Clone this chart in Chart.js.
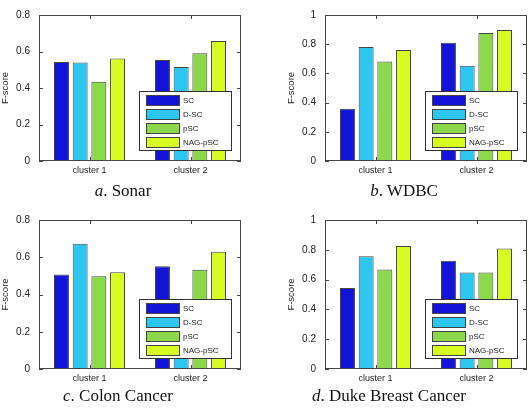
<!DOCTYPE html>
<html>
<head>
<meta charset="utf-8">
<script src="https://cdn.jsdelivr.net/npm/chart.js@4/dist/chart.umd.min.js"></script>
<style>
    html, body { margin: 0; padding: 0; background: #fff; }
    #wrap { position: relative; width: 529px; height: 410px; overflow: hidden; }
    .panel { position: absolute; width: 265px; height: 205px; }
    .caption {
        position: absolute; width: 240px; text-align: center; white-space: nowrap;
        font-family: 'Liberation Serif', 'Times New Roman', serif;
        font-size: 17px; line-height: 17px; color: #111;
    }
</style>
</head>
<body>
<div id="wrap">
    <div class="panel" style="left:0;top:0"><canvas id="sonar" width="265" height="205"></canvas></div>
    <div class="panel" style="left:264px;top:0"><canvas id="wdbc" width="265" height="205"></canvas></div>
    <div class="panel" style="left:0;top:205px"><canvas id="colon" width="265" height="205"></canvas></div>
    <div class="panel" style="left:264px;top:205px"><canvas id="duke" width="265" height="205"></canvas></div>
    <div class="caption" style="left:3px;top:182px"><i>a</i>. Sonar</div>
    <div class="caption" style="left:284px;top:182px"><i>b</i>. WDBC</div>
    <div class="caption" style="left:-2px;top:387px"><i>c</i>. Colon Cancer</div>
    <div class="caption" style="left:269px;top:387px"><i>d</i>. Duke Breast Cancer</div>
</div>
<script>
const categories = ['cluster 1', 'cluster 2'];
const methods = ['SC', 'D-SC', 'pSC', 'NAG-pSC'];
const methodColors = ['#1414d8', '#2cc6f0', '#8cd84a', '#d8fc22'];

// F-score per method: [cluster 1, cluster 2]
const sonar = [[0.542, 0.553], [0.540, 0.515], [0.434, 0.590], [0.562, 0.658]];
const wdbc = [[0.358, 0.810], [0.780, 0.653], [0.681, 0.876], [0.760, 0.897]];
const colon = [[0.507, 0.552], [0.672, 0.330], [0.498, 0.533], [0.519, 0.629]];
const duke = [[0.543, 0.727], [0.756, 0.647], [0.667, 0.647], [0.826, 0.808]];

const ticksTo08 = [0, 0.2, 0.4, 0.6, 0.8];
const ticksTo1 = [0, 0.2, 0.4, 0.6, 0.8, 1];

Chart.defaults.font.family = "'Liberation Sans', Arial, sans-serif";
Chart.defaults.font.size = 9;
Chart.defaults.color = '#222';

// matlab-ish box, inward ticks and legend box inside the axes
const framePlugin = {
    id: 'frame',
    afterDatasetsDraw(chart) {
        const ctx = chart.ctx;
        const { right, bottom } = chart.chartArea;
        const w = 92, h = 59;
        const x0 = Math.round(right - 10 - w), y0 = Math.round(bottom - 11 - h);
        ctx.save();
        ctx.fillStyle = '#fff';
        ctx.fillRect(x0, y0, w, h);
        ctx.strokeStyle = '#333';
        ctx.lineWidth = 1;
        ctx.strokeRect(x0 + 0.5, y0 + 0.5, w, h);
        ctx.font = "8px 'Liberation Sans', Arial, sans-serif";
        ctx.textBaseline = 'middle';
        chart.data.datasets.forEach((ds, i) => {
            const sy = y0 + 4 + i * 14;
            ctx.fillStyle = ds.backgroundColor;
            ctx.fillRect(x0 + 7, sy, 33, 10);
            ctx.strokeStyle = '#444';
            ctx.strokeRect(x0 + 7.5, sy + 0.5, 33, 10);
            ctx.fillStyle = '#222';
            ctx.fillText(ds.label, x0 + 44, sy + 5.5);
        });
        ctx.restore();
    },
    afterDraw(chart) {
        const ctx = chart.ctx;
        const { left, right, top, bottom } = chart.chartArea;
        const xs = chart.scales.x, ys = chart.scales.y;
        const l = Math.round(left), r = Math.round(right), t = Math.round(top), b = Math.round(bottom);
        ctx.save();
        ctx.strokeStyle = '#444';
        ctx.lineWidth = 1;
        ctx.strokeRect(l + 0.5, t + 0.5, r - l - 1, b - t - 1);
        ctx.beginPath();
        ys.ticks.forEach(tk => {
            const py = Math.round(ys.getPixelForValue(tk.value)) + 0.5;
            ctx.moveTo(l, py); ctx.lineTo(l + 4, py);
            ctx.moveTo(r - 4, py); ctx.lineTo(r, py);
        });
        xs.ticks.forEach((tk, i) => {
            const px = Math.round(xs.getPixelForTick(i)) + 0.5;
            ctx.moveTo(px, t); ctx.lineTo(px, t + 4);
            ctx.moveTo(px, b - 4); ctx.lineTo(px, b);
        });
        ctx.stroke();
        ctx.restore();
    }
};

function makePanel(id, scores, yTicks, box) {
    new Chart(document.getElementById(id), {
        type: 'bar',
        data: {
            labels: categories,
            datasets: methods.map((name, i) => ({
                label: name,
                data: scores[i],
                backgroundColor: methodColors[i],
                borderColor: '#444',
                borderWidth: 1,
                borderSkipped: false,
                categoryPercentage: 0.74,
                barPercentage: 0.8,
            })),
        },
        options: {
            responsive: false,
            animation: false,
            layout: { padding: { left: box.padLeft, right: box.padRight, top: box.top, bottom: 0 } },
            plugins: { legend: { display: false }, tooltip: { enabled: false } },
            scales: {
                x: {
                    grid: { display: false, drawTicks: false },
                    border: { display: false },
                    ticks: { padding: 4, color: '#222' },
                    afterFit: s => { s.height = 205 - box.bottom; },
                },
                y: {
                    min: 0,
                    max: yTicks[yTicks.length - 1],
                    grid: { display: false, drawTicks: false },
                    border: { display: false },
                    afterBuildTicks: s => { s.ticks = yTicks.map(v => ({ value: v })); },
                    ticks: { padding: 9, color: '#222', font: { size: 10 }, callback: v => String(v) },
                    title: { display: true, text: 'F-score', font: { size: 9.5 }, color: '#222', padding: 0 },
                    afterFit: s => { s.width = 39; },
                },
            },
        },
        plugins: [framePlugin],
    });
}

makePanel('sonar', sonar, ticksTo08, { padLeft: 0, padRight: 24, top: 7, bottom: 161 });
makePanel('wdbc', wdbc, ticksTo1, { padLeft: 22, padRight: 2, top: 7, bottom: 161 });
makePanel('colon', colon, ticksTo08, { padLeft: 0, padRight: 24, top: 9, bottom: 164 });
makePanel('duke', duke, ticksTo1, { padLeft: 22, padRight: 2, top: 9, bottom: 164 });
</script>
</body>
</html>
